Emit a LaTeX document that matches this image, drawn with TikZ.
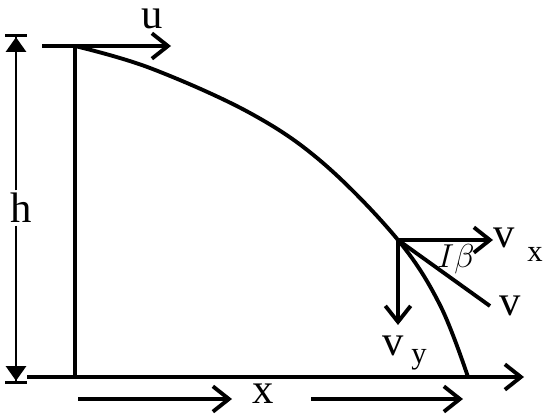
\documentclass[tikz,border=0pt]{standalone}
\usepackage{fontspec}
\setmainfont{Liberation Serif}
\usetikzlibrary{arrows.meta}

\tikzset{every picture/.style={line width=2.9pt}}
\tikzset{
  vec/.style={-{Straight Barb[length=12pt,width=19pt,line width=2.9pt]}},
  dimtip/.style={line width=2pt,-{Triangle[length=11pt,width=15pt]Bar[width=16pt,line width=2.4pt]}},
  lbl/.style={inner sep=0.75pt,font=\fontsize{32}{36}\selectfont},
  sub/.style={inner sep=0.75pt,font=\fontsize{23}{25}\selectfont}
}

\begin{document}
\begin{tikzpicture}[x=0.75pt,y=0.75pt,yscale=-1,xscale=1]
\useasboundingbox (0,0) rectangle (547,414);

%Coordinates
\coordinate (top) at (75,46);
\coordinate (foot) at (75,377);
\coordinate (uStart) at (42,46);
\coordinate (uEnd) at (171,46);
\coordinate (gStart) at (27,377);
\coordinate (gEnd) at (524,377);
\coordinate (P) at (398,240);
\coordinate (vxEnd) at (493,240);
\coordinate (vEnd) at (490,306);
\coordinate (vyEnd) at (398,325);
\coordinate (hTop) at (16,34);
\coordinate (hBot) at (16,384);
\coordinate (xaStart) at (78,399);
\coordinate (xaEnd) at (232,399);
\coordinate (xbStart) at (311,399);
\coordinate (xbEnd) at (463,399);

%Straight Lines
\draw (top) -- (foot) ;
%Straight Lines
\draw [vec] (uStart) -- (uEnd) ;
%Straight Lines
\draw [vec] (gStart) -- (gEnd) ;

%Curve Lines
\draw plot [smooth,tension=0.6] coordinates {(75,46) (150,68) (250,113) (323,163) (398,240) (440,305) (468,377)} ;

%Straight Lines
\draw [vec] (P) -- (vxEnd) ;
%Straight Lines
\draw (P) -- (vEnd) ;
%Straight Lines
\draw [vec] (P) -- (vyEnd) ;

%Straight Lines
\draw [vec] (xaStart) -- (xaEnd) ;
%Straight Lines
\draw [vec] (xbStart) -- (xbEnd) ;

% Text Node
\draw (21,208) node [lbl] (h) {h};
%Straight Lines
\draw [dimtip] (h.north -| hTop) -- (hTop) ;
%Straight Lines
\draw [dimtip] (h.south -| hBot) -- (hBot) ;

% Text Node
\draw (263,394) node [lbl] (x) {x};
% Text Node
\draw (152,19) node [lbl] (u) {u};
% Text Node
\draw (504,238) node [lbl] (vx) {v};
% Text Node
\draw (535,254) node [sub] (vxs) {x};
% Text Node
\draw (510,306) node [lbl] (v) {v};
% Text Node
\draw (393,346) node [lbl] (vy) {v};
% Text Node
\draw (419,360) node [sub] (vys) {y};
% Text Node
\draw (456,259) node [lbl,font=\fontsize{40}{44}\selectfont] (beta) {$I\beta$};
\end{tikzpicture}
\end{document}
